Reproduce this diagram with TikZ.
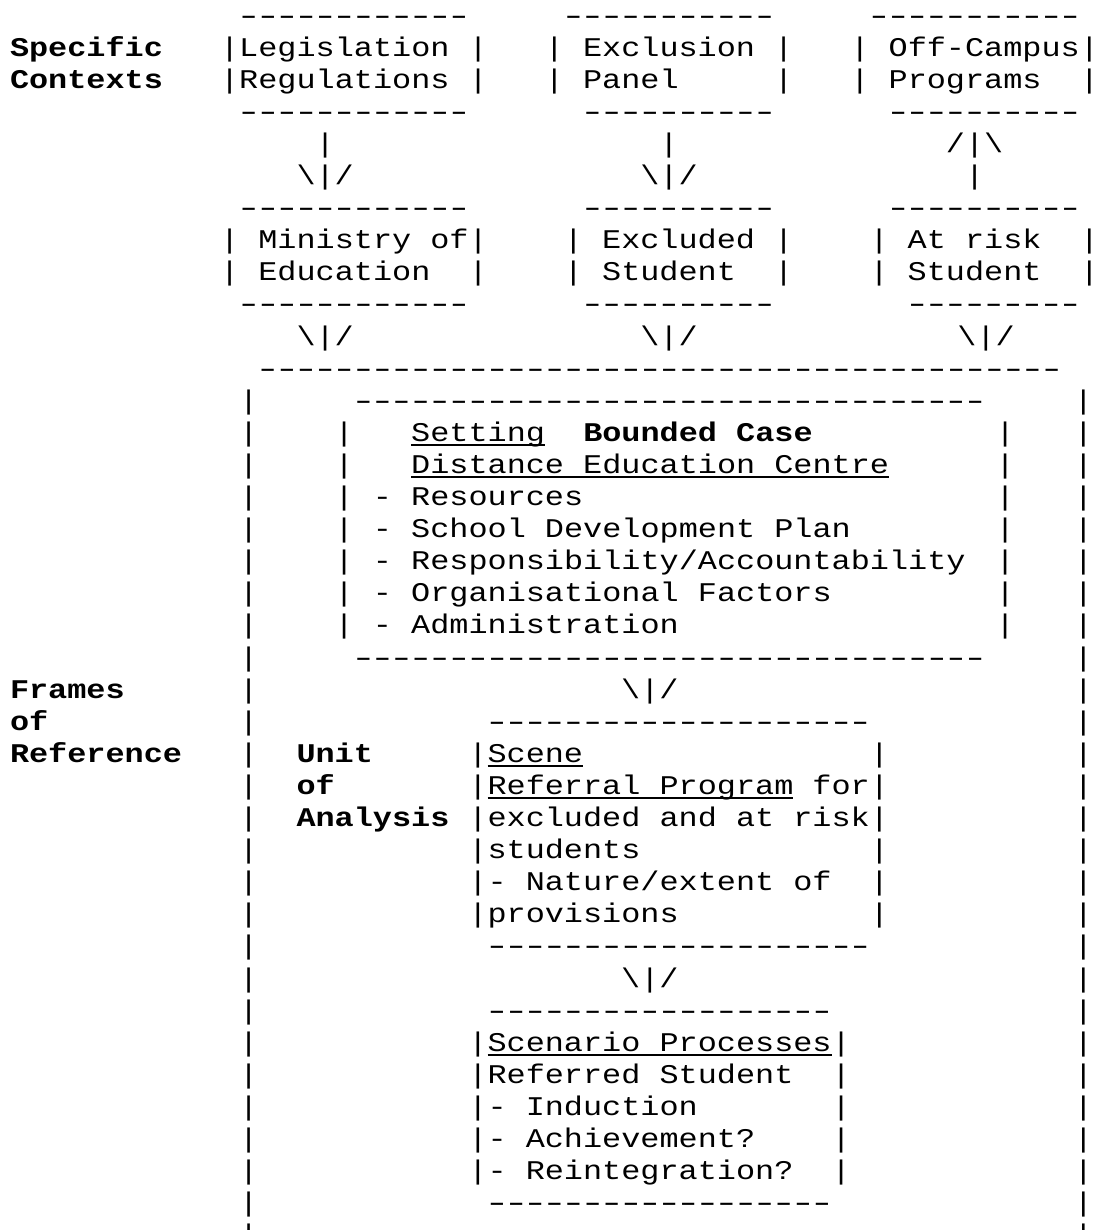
\documentclass[tikz,border=0pt]{standalone}
\usepackage{fontspec}
\usepackage{graphicx}
\setmonofont{Liberation Mono}[FakeStretch=1.18]
\frenchspacing
\newcommand\undl[1]{\setbox0\hbox{#1}\rlap{\rule[-2.2pt]{\wd0}{0.7pt}}\box0}
\newcommand\rows[1]{\vtop{\lineskiplimit=-\maxdimen\let\\\cr\halign{##\hfil\cr#1\crcr}}}
\newcommand\dashrow[1]{\foreach\k in {1,...,#1}{\hbox to \fontcharwd\font`\-{\hss\scalebox{1.4}[1]{-}\hss}}}

\begin{document}
\begin{tikzpicture}[
  x=9.55pt,y=-16.05pt,
  ascii/.style={font=\ttfamily\fontsize{13.5pt}{16.05pt}\selectfont,
    anchor=base west,inner sep=0pt,outer sep=0pt},
  heading/.style={ascii,font=\ttfamily\bfseries\fontsize{13.5pt}{16.05pt}\selectfont}
]
\useasboundingbox (-0.524,-0.748) rectangle (56.91,37.57);

% Specific contexts: three source boxes with their arrows.
\node[heading] (spec) at (0,1) {\rows{Specific\\Contexts}};
\node[ascii] (legis) at (11,0)
  {\rows{~\dashrow{12}\\|Legislation~|\\|Regulations~|\\~\dashrow{12}}};
\node[ascii] (panel) at (28,0)
  {\rows{~\dashrow{11}\\|~Exclusion~|\\|~Panel~~~~~|\\~~\dashrow{10}}};
\node[ascii] (offcamp) at (44,0)
  {\rows{~\dashrow{11}\\|~Off-Campus|\\|~Programs~~|\\~~\dashrow{10}}};

\node[ascii] (arrlegis) at (15,4) {\rows{~|\\\textbackslash|/}};
\node[ascii] (arrpanel) at (33,4) {\rows{~|\\\textbackslash|/}};
\node[ascii] (arroff) at (49,4) {\rows{/|\textbackslash\\~|}};

\node[ascii] (ministry) at (11,6)
  {\rows{~\dashrow{12}\\|~Ministry~of|\\|~Education~~|\\~\dashrow{12}}};
\node[ascii] (excluded) at (29,6)
  {\rows{~\dashrow{10}\\|~Excluded~|\\|~Student~~|\\~\dashrow{10}}};
\node[ascii] (atrisk) at (45,6)
  {\rows{~\dashrow{10}\\|~At~risk~~|\\|~Student~~|\\~~\dashrow{9}}};

\node[ascii] (arrmin) at (15,10) {\textbackslash|/};
\node[ascii] (arrexc) at (33,10) {\textbackslash|/};
\node[ascii] (arrrisk) at (49.6,10) {\textbackslash|/};

% Frames of reference: the outer frame.
\node[ascii] (frametop) at (13,11) {\dashrow{42}};
\node[ascii] (frameL) at (12,12)
  {\rows{|\\|\\|\\|\\|\\|\\|\\|\\|\\|\\|\\|\\|\\|\\|\\|\\|\\|\\|\\|\\|\\|\\|\\|\\|\\|\\|}};
\node[ascii] (frameR) at (55.7,12)
  {\rows{|\\|\\|\\|\\|\\|\\|\\|\\|\\|\\|\\|\\|\\|\\|\\|\\|\\|\\|\\|\\|\\|\\|\\|\\|\\|\\|}};
\node[heading] (frames) at (0,21) {\rows{Frames\\of\\Reference}};

% Setting: the bounded case.
\node[ascii] (setting) at (17,12)
  {\rows{~\dashrow{33}\\
   |~~~\undl{Setting}~~\textbf{Bounded~Case}\\
   |~~~\undl{Distance~Education~Centre}\\
   |~-~Resources\\
   |~-~School~Development~Plan\\
   |~-~Responsibility/Accountability\\
   |~-~Organisational~Factors\\
   |~-~Administration\\
   ~\dashrow{33}}};
\node[ascii] (settingR) at (51.6,13) {\rows{|\\|\\|\\|\\|\\|\\|}};
\node[ascii] (arrset) at (32,21) {\textbackslash|/};

% Unit of analysis: scene and scenario.
\node[heading] (unit) at (15,23) {\rows{Unit\\of\\Analysis}};
\node[ascii] (scene) at (24,22)
  {\rows{~\dashrow{20}\\
   |\undl{Scene}~~~~~~~~~~~~~~~|\\
   |\undl{Referral~Program}~for|\\
   |excluded~and~at~risk|\\
   |students~~~~~~~~~~~~|\\
   |-~Nature/extent~of~~|\\
   |provisions~~~~~~~~~~|\\
   ~\dashrow{20}}};
\node[ascii] (arrscene) at (32,30) {\textbackslash|/};
\node[ascii] (scenario) at (24,31)
  {\rows{~\dashrow{18}\\
   |\undl{Scenario~Processes}|\\
   |Referred~Student~~|\\
   |-~Induction~~~~~~~|\\
   |-~Achievement?~~~~|\\
   |-~Reintegration?~~|\\
   ~\dashrow{18}}};
\end{tikzpicture}
\end{document}
